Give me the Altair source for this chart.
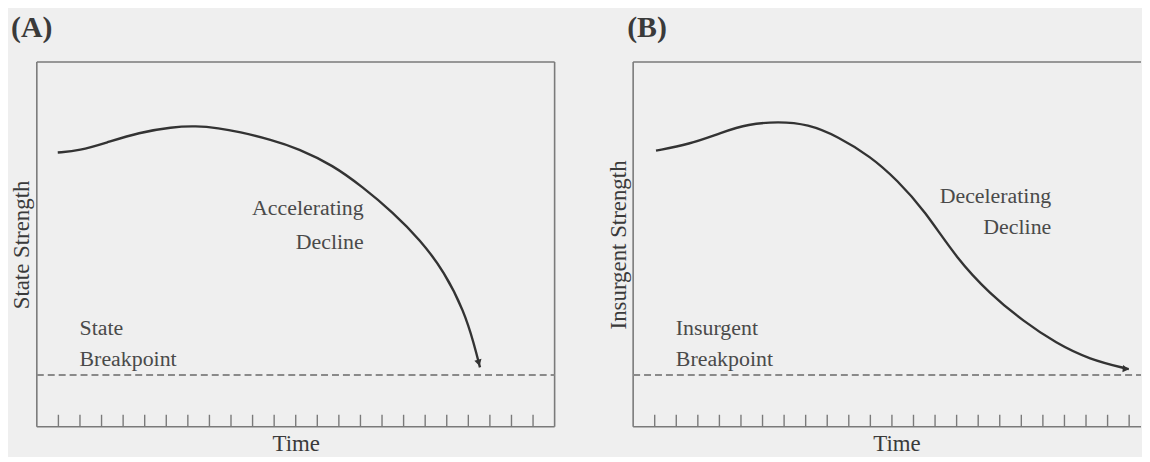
import altair as alt
import pandas as pd

FONT = "Liberation Serif"

# ---------------- data ----------------
time_ticks = list(range(1, 24))
breakpoint_level = 14.2

# Panel A: state strength (accelerating decline)
a_time = [0.97, 1.98, 3.22, 4.74, 6.26, 7.37, 8.43, 9.35, 10.87, 12.11, 13.73, 15.11, 16.49, 17.78,
          18.89, 19.81, 20.27, 20.54]
a_strength = [75.2, 75.7, 77.9, 80.7, 82.2, 82.5, 81.9, 80.9, 78.7, 76.3, 71.7, 65.7, 58.9, 51.2,
              42.5, 31.6, 22.6, 16.3]
a_arrow = [20.47, 17.8, 165]

# Panel B: insurgent strength (decelerating decline)
b_time = [1.06, 2.58, 4.10, 5.34, 6.72, 8.11, 9.49, 11.01, 12.25, 13.50, 15.02, 16.54, 18.10, 19.62,
          21.14, 22.98]
b_strength = [75.7, 77.4, 80.7, 83.0, 83.7, 83.0, 79.6, 74.1, 67.6, 59.4, 46.0, 36.5, 28.9, 22.9,
              18.5, 15.8]
b_arrow = [22.80, 15.9, 95]

a_right_labels = ["Accelerating", "Decline"]
a_right_t = [15.15, 15.15]
a_right_s = [59.9, 50.7]
a_left_labels = ["State", "Breakpoint"]
a_left_t = [1.98, 1.98]
a_left_s = [27.2, 18.5]

b_right_labels = ["Decelerating", "Decline"]
b_right_t = [19.39, 19.39]
b_right_s = [63.2, 54.8]
b_left_labels = ["Insurgent", "Breakpoint"]
b_left_t = [1.98, 1.98]
b_left_s = [27.2, 18.5]

PLOT_H = 367
PX_PER_UNIT = 21.71


def panel(panel_title, y_title, t, s, arrow, rl, rt, rs, ll, lt, ls,
          xmax, right_edge, title_dx, time_title_x):
    width = round(xmax * PX_PER_UNIT)
    xs = alt.Scale(domain=[0, xmax], nice=False, zero=False)
    ys = alt.Scale(domain=[0, 100], nice=False, zero=False)
    xaxis = alt.Axis(title="Time", labels=False, ticks=False, domain=False, grid=False,
                     titleFont=FONT, titleFontSize=23, titleFontWeight="normal",
                     titleColor="#3a3a3a", titlePadding=6, titleX=time_title_x)
    yaxis = alt.Axis(title=y_title, labels=False, ticks=False, domain=False, grid=False,
                     titleFont=FONT, titleFontSize=23, titleFontWeight="normal",
                     titleColor="#3a3a3a", titlePadding=3)

    def X(f):
        return alt.X(f, type="quantitative", scale=xs, axis=xaxis)

    def Y(f):
        return alt.Y(f, type="quantitative", scale=ys, axis=yaxis)

    # frame
    fx, fx2, fy, fy2 = [0, 0, 0], [0, xmax, xmax], [0, 100, 0], [100, 100, 0]
    if right_edge:
        fx.append(xmax); fx2.append(xmax); fy.append(0); fy2.append(100)
    frame_df = pd.DataFrame({"x": fx, "x2": fx2, "y": fy, "y2": fy2})
    frame = alt.Chart(frame_df).mark_rule(color="#7a7a7a", strokeWidth=1.6).encode(
        x=X("x"), x2="x2", y=Y("y"), y2="y2")

    tick_df = pd.DataFrame({"x": time_ticks, "y": [0] * len(time_ticks), "y2": [3.3] * len(time_ticks)})
    ticks = alt.Chart(tick_df).mark_rule(color="#7a7a7a", strokeWidth=1.4).encode(
        x=X("x"), y=Y("y"), y2="y2")

    bp_df = pd.DataFrame({"x": [0], "x2": [xmax], "y": [breakpoint_level]})
    bp = alt.Chart(bp_df).mark_rule(color="#8a8a8a", strokeWidth=1.8, strokeDash=[7, 4]).encode(
        x=X("x"), x2="x2", y=Y("y"))

    curve_df = pd.DataFrame({"t": t, "s": s})
    curve = alt.Chart(curve_df).mark_line(interpolate="basis", color="#333333", strokeWidth=2.4).encode(
        x=X("t"), y=Y("s"))

    arrow_df = pd.DataFrame({"t": [arrow[0]], "s": [arrow[1]], "a": [arrow[2]]})
    head = alt.Chart(arrow_df).mark_point(shape="triangle", filled=True, size=55, color="#333333",
                                          opacity=1).encode(
        x=X("t"), y=Y("s"), angle=alt.Angle("a:Q", scale=None))

    rdf = pd.DataFrame({"t": rt, "s": rs, "label": rl})
    rtext = alt.Chart(rdf).mark_text(align="right", baseline="middle", font=FONT, fontSize=22,
                                     color="#4a4a4a").encode(x=X("t"), y=Y("s"), text="label:N")
    ldf = pd.DataFrame({"t": lt, "s": ls, "label": ll})
    ltext = alt.Chart(ldf).mark_text(align="left", baseline="middle", font=FONT, fontSize=22,
                                     color="#4a4a4a").encode(x=X("t"), y=Y("s"), text="label:N")

    return alt.layer(frame, ticks, bp, curve, head, rtext, ltext).properties(
        width=width, height=PLOT_H,
        title=alt.TitleParams(panel_title, anchor="start", frame="bounds", font=FONT, fontSize=30,
                              fontWeight="bold", color="#3a3a3a", offset=18, dx=title_dx))


panel_a = panel("(A)", "State Strength", a_time, a_strength, a_arrow,
                a_right_labels, a_right_t, a_right_s, a_left_labels, a_left_t, a_left_s,
                24, True, 0, 260.5)
panel_b = panel("(B)", "Insurgent Strength", b_time, b_strength, b_arrow,
                b_right_labels, b_right_t, b_right_s, b_left_labels, b_left_t, b_left_s,
                23.55, False, 20, 265)

chart = alt.hconcat(panel_a, panel_b, spacing=52).properties(
    padding={"left": 3, "top": 4, "right": 0, "bottom": 0},
    background="#efefef",
).configure_view(stroke=None)

chart.save("out.html", embed_options={"renderer": "svg", "actions": False})
